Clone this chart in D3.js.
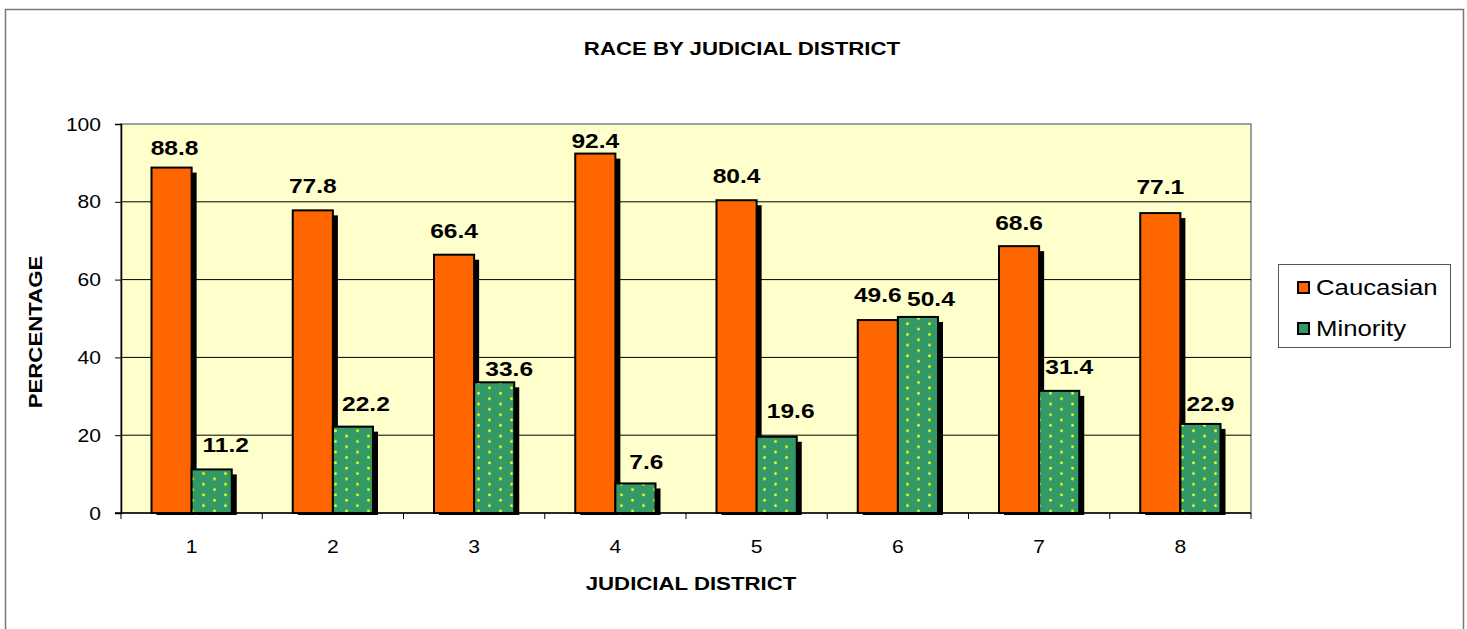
<!DOCTYPE html>
<html lang="en">
  <head>
    <meta charset="UTF-8">
    <title>Race by Judicial District</title>
    <style>
      body { margin: 0; background: #fff; }
      svg { display: block; font-family: Arial, "Liberation Sans", sans-serif; }
    </style>
    <script src="https://d3js.org/d3.v7.min.js"></script>
  </head>
  <body>
    <script>
      var districts = ["1", "2", "3", "4", "5", "6", "7", "8"];
      var caucasian = [88.8, 77.8, 66.4, 92.4, 80.4, 49.6, 68.6, 77.1];
      var minority = [11.2, 22.2, 33.6, 7.6, 19.6, 50.4, 31.4, 22.9];
      var seriesNames = ["Caucasian", "Minority"];
      var yTicks = [0, 20, 40, 60, 80, 100];

      // hand nudges of the value labels, as placed in the original (px)
      var cauLabelDx = [3, 0, 0, 0, 0, 0, 0, 0];
      var cauLabelGap = [13, 17, 17, 6, 17, 18, 16, 19];
      var minLabelDx = [14, 13, 15, 11, 14, 13, 10, 10];
      var minLabelGap = [17, 16, 6, 14, 19, 11, 17, 13];

      var W = 1467, H = 629;
      var pLeft = 121, pRight = 1251, pTop = 124, pBottom = 513;
      var SX = 1.17; // the original text is drawn a bit wider than Arial

      var svg = d3.select("body").append("svg")
        .attr("width", W).attr("height", H);

      // places a text at (x,y), stretched horizontally like the original
      function stretched(sel, x, y, rot) {
        return sel.attr("transform", "translate(" + x + "," + y + ")" +
          (rot ? " rotate(" + rot + ")" : "") + " scale(" + SX + ",1)");
      }

      var defs = svg.append("defs");
      var pat = defs.append("pattern").attr("id", "dots")
        .attr("patternUnits", "userSpaceOnUse")
        .attr("width", 22).attr("height", 10.7);
      pat.append("rect").attr("width", 22).attr("height", 10.7).attr("fill", "#339966");
      pat.append("circle").attr("cx", 5.5).attr("cy", 2.7).attr("r", 1.5).attr("fill", "#ccee22");
      pat.append("circle").attr("cx", 5.5).attr("cy", 2.7).attr("r", 0.9).attr("fill", "#ffff00");
      pat.append("circle").attr("cx", 16.5).attr("cy", 8.05).attr("r", 1.5).attr("fill", "#ccee22");
      pat.append("circle").attr("cx", 16.5).attr("cy", 8.05).attr("r", 0.9).attr("fill", "#ffff00");

      defs.append("clipPath").attr("id", "shadowClip")
        .append("rect").attr("x", pLeft).attr("y", 0)
        .attr("width", pRight - pLeft + 10).attr("height", pBottom + 2);

      // outer frame
      svg.append("rect").attr("x", 5.5).attr("y", 9.5)
        .attr("width", 1458).attr("height", 640)
        .attr("fill", "#fff").attr("stroke", "#777").attr("stroke-width", 1.5);

      var x = d3.scaleBand().domain(districts).range([pLeft, pRight]);
      var xs = d3.scaleBand().domain(seriesNames).range([0, x.bandwidth()])
        .paddingOuter(0.76).paddingInner(0);
      var y = d3.scaleLinear().domain([0, 100]).range([pBottom, pTop]);

      // plot area
      svg.append("rect").attr("x", pLeft).attr("y", pTop)
        .attr("width", pRight - pLeft).attr("height", pBottom - pTop)
        .attr("fill", "#ffffcc").attr("stroke", "#808080").attr("stroke-width", 1.5);

      // gridlines
      svg.append("g").selectAll("line").data(yTicks.slice(1, -1)).enter()
        .append("line")
        .attr("x1", pLeft).attr("x2", pRight)
        .attr("y1", function (d) { return y(d); })
        .attr("y2", function (d) { return y(d); })
        .attr("stroke", "#000").attr("stroke-width", 1);

      var flat = [];
      districts.forEach(function (d, i) {
        flat.push({ district: d, series: "Caucasian", value: caucasian[i],
                    dx: cauLabelDx[i], gap: cauLabelGap[i] });
        flat.push({ district: d, series: "Minority", value: minority[i],
                    dx: minLabelDx[i], gap: minLabelGap[i] });
      });

      // shadows
      svg.append("g").attr("clip-path", "url(#shadowClip)")
        .selectAll("rect").data(flat).enter().append("rect")
        .attr("x", function (d) { return x(d.district) + xs(d.series) + 5; })
        .attr("y", function (d) { return y(d.value) + 5; })
        .attr("width", xs.bandwidth())
        .attr("height", function (d) { return pBottom - y(d.value); })
        .attr("fill", "#000");

      // bars
      svg.append("g").selectAll("rect").data(flat).enter().append("rect")
        .attr("x", function (d) { return x(d.district) + xs(d.series); })
        .attr("y", function (d) { return y(d.value); })
        .attr("width", xs.bandwidth())
        .attr("height", function (d) { return pBottom - y(d.value); })
        .attr("fill", function (d) { return d.series === "Caucasian" ? "#ff6600" : "url(#dots)"; })
        .attr("stroke", "#000").attr("stroke-width", 2);

      // value labels
      svg.append("g").selectAll("text").data(flat).enter().append("text")
        .each(function (d) {
          stretched(d3.select(this),
            x(d.district) + xs(d.series) + xs.bandwidth() / 2 + d.dx,
            y(d.value) - d.gap);
        })
        .attr("text-anchor", "middle")
        .attr("font-size", 21).attr("font-weight", "bold")
        .text(function (d) { return d.value.toFixed(1); });

      // y axis
      var yAxis = d3.axisLeft(y).tickValues(yTicks).tickSize(6).tickFormat(d3.format("d"));
      var gy = svg.append("g").attr("transform", "translate(" + pLeft + ",0)").call(yAxis);
      gy.select(".domain").attr("stroke", "#000").attr("stroke-width", 1.5);
      gy.selectAll(".tick text")
        .attr("x", null).attr("dy", null)
        .each(function () { stretched(d3.select(this), -20, 6); })
        .attr("font-size", 18).attr("fill", "#000")
        .attr("font-family", "Arial, 'Liberation Sans', sans-serif");

      // x axis
      var gx = svg.append("g").attr("transform", "translate(0," + pBottom + ")");
      gx.append("line").attr("x1", pLeft - 6).attr("x2", pRight).attr("stroke", "#000").attr("stroke-width", 1.5);
      gx.selectAll(".tk").data(d3.range(districts.length + 1)).enter().append("line")
        .attr("x1", function (i) { return pLeft + i * x.step(); })
        .attr("x2", function (i) { return pLeft + i * x.step(); })
        .attr("y1", 0).attr("y2", 6).attr("stroke", "#000");
      gx.selectAll("text").data(districts).enter().append("text")
        .each(function (d) { stretched(d3.select(this), x(d) + x.bandwidth() / 2, 40); })
        .attr("text-anchor", "middle").attr("font-size", 18)
        .text(function (d) { return d; });

      // titles
      stretched(svg.append("text"), 742, 55).attr("text-anchor", "middle")
        .attr("font-size", 19).attr("font-weight", "bold").text("RACE BY JUDICIAL DISTRICT");
      stretched(svg.append("text"), 691, 590).attr("text-anchor", "middle")
        .attr("font-size", 19).attr("font-weight", "bold").text("JUDICIAL DISTRICT");
      stretched(svg.append("text"), 42, 332, -90)
        .attr("text-anchor", "middle").attr("font-size", 19).attr("font-weight", "bold")
        .text("PERCENTAGE");

      // legend
      var lg = svg.append("g");
      lg.append("rect").attr("x", 1278.5).attr("y", 264.5).attr("width", 172).attr("height", 83)
        .attr("fill", "#fff").attr("stroke", "#555").attr("stroke-width", 1);
      var li = lg.selectAll("g").data(seriesNames).enter().append("g")
        .attr("transform", function (d, i) { return "translate(1298," + (287 + i * 41) + ")"; });
      li.append("rect").attr("x", 0).attr("y", -5).attr("width", 11).attr("height", 11)
        .attr("fill", function (d) { return d === "Caucasian" ? "#ff6600" : "#339966"; })
        .attr("stroke", "#000").attr("stroke-width", 2);
      li.append("text")
        .each(function () { stretched(d3.select(this), 18, 8); })
        .attr("font-size", 22)
        .text(function (d) { return d; });
    </script>
  </body>
</html>
